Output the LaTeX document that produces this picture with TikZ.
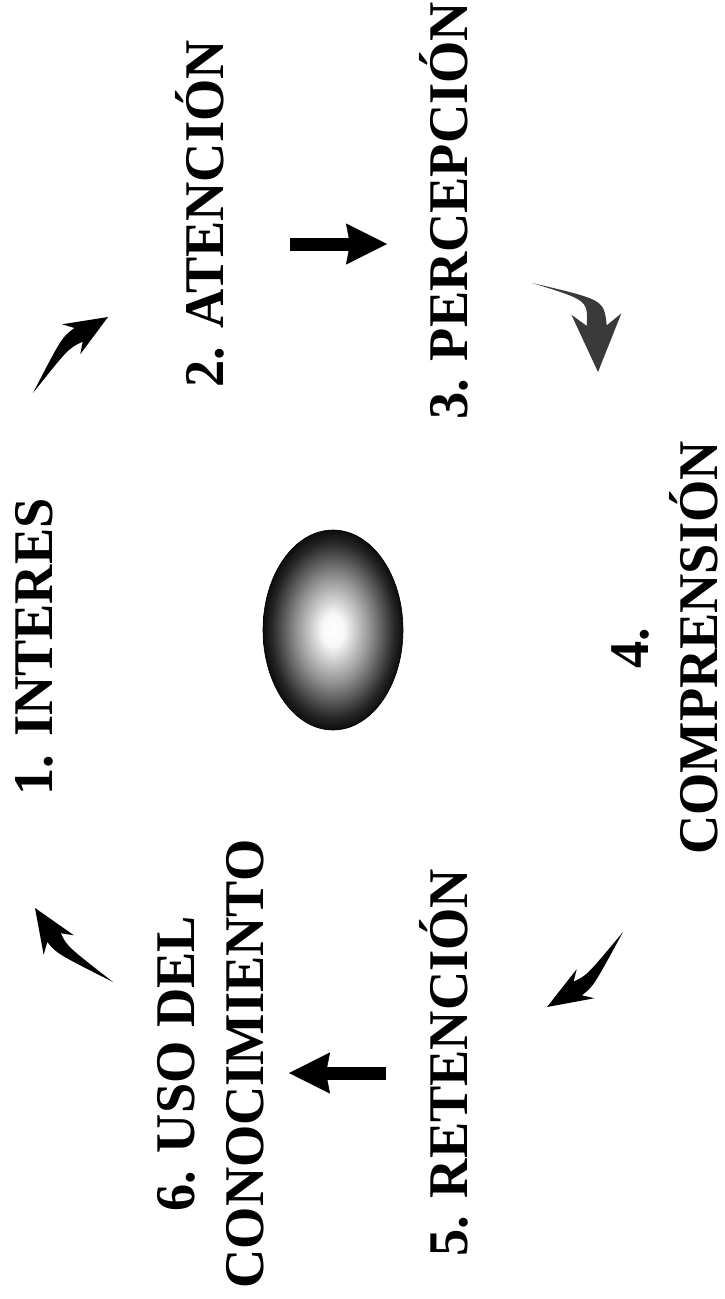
\documentclass[tikz,border=0pt]{standalone}
\usepackage{fontspec}
\setmainfont{Liberation Serif}[FakeStretch=0.97]
\usepackage{tikz}
\usetikzlibrary{arrows.meta,calc,shapes.geometric}
\definecolor{InkBlack}{RGB}{0,0,0}
\definecolor{InkGray}{RGB}{58,58,58}
\pgfdeclareradialshading{orb}{\pgfpoint{0bp}{0bp}}{%
  color(0bp)=(white); color(4bp)=(white!97!black); color(13bp)=(black!42);
  color(22bp)=(black!85); color(25bp)=(black!95); color(50bp)=(black)}
% colour, tail, bend, tip, head length, head half width, neck half width
\newcommand{\brusharrow}[7]{%
  \coordinate (hb) at ($(#4)!#5!(#3)$);
  \coordinate (hk) at ($(#4)!0.8!(hb)$);
  \fill[#1] (#2) .. controls ($(#3)!0.8*#7!90:(#4)$) .. ($(hk)!#7!90:(#4)$)
    -- ($(hb)!#6!90:(#4)$) -- (#4) -- ($(hb)!#6!-90:(#4)$)
    -- ($(hk)!#7!-90:(#4)$) .. controls ($(#3)!0.8*#7!-90:(#4)$) .. (#2) -- cycle;}

\begin{document}
\begin{tikzpicture}[
  x=1pt, y=-1pt,
  phasetext/.style={font=\bfseries\fontsize{56}{69}\selectfont, rotate=90,
    anchor=base, inner sep=0pt},
  phasetwo/.style={phasetext, anchor=center, align=center},
  blockarrow/.style={line width=13pt, InkBlack,
    -{Stealth[length=41pt, width=41pt, inset=4pt, line width=0.5pt]}}
]
  \path[use as bounding box, fill=white] (0,0) rectangle (725,1299);

  % Central sphere
  \node[ellipse, minimum width=140pt, minimum height=200pt, inner sep=0pt,
    shading=orb, draw=black, line width=0.6pt] (core) at (333,630) {};

  % Stage labels
  \node[phasetext] (p1) at (52,647)  {1. INTERES};
  \node[phasetext] (p2) at (223,214) {2. ATENCIÓN};
  \node[phasetext] (p3) at (467,211) {3. PERCEPCIÓN};
  \node[phasetwo]  (p4) at (665,648) {4.\\COMPRENSIÓN};
  \node[phasetext] (p5) at (467,1063) {5. RETENCIÓN};
  \node[phasetwo]  (p6) at (211,1064) {6. USO DEL\\CONOCIMIENTO};

  % Arrow ends
  \coordinate (a1t) at (33,393);   \coordinate (a1b) at (65,343);   \coordinate (a1h) at (108,317);
  \coordinate (a2t) at (290,244);  \coordinate (a2h) at (387,244);
  \coordinate (a3t) at (532,283);  \coordinate (a3b) at (596,300);  \coordinate (a3h) at (598,372);
  \coordinate (a4t) at (623,932);  \coordinate (a4b) at (590,981);  \coordinate (a4h) at (547,1007);
  \coordinate (a5t) at (386,1073); \coordinate (a5h) at (289,1073);
  \coordinate (a6t) at (113,982);  \coordinate (a6b) at (62,950);   \coordinate (a6h) at (35,908);

  % Curved brush arrows
  \brusharrow{InkBlack}{a1t}{a1b}{a1h}{43pt}{17.5pt}{8pt}
  \brusharrow{InkGray}{a3t}{a3b}{a3h}{58pt}{25pt}{10pt}
  \brusharrow{InkBlack}{a4t}{a4b}{a4h}{45pt}{17pt}{8pt}
  \brusharrow{InkBlack}{a6t}{a6b}{a6h}{44pt}{18pt}{8pt}

  % Straight arrows
  \draw[blockarrow] (a2t) -- (a2h);
  \draw[blockarrow] (a5t) -- (a5h);
\end{tikzpicture}
\end{document}
